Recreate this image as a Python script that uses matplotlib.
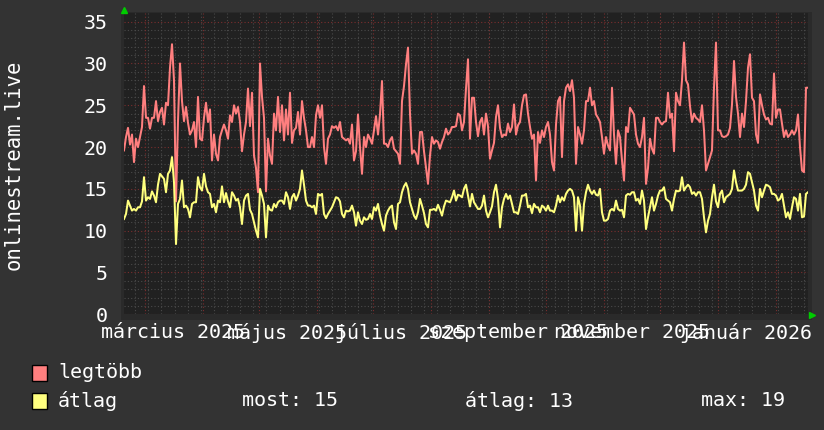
import matplotlib
matplotlib.use('Agg')
import matplotlib.pyplot as plt
from matplotlib.patches import Rectangle
import pandas as pd

plt.rcParams['font.family'] = ['DejaVu Sans Mono', 'DejaVu Sans']

# daily values, Feb 2025 -> Feb 2026
legtobb = [
    19.6, 21.2, 22.3, 20.3, 21.5, 18.2, 21.0, 20.0, 21.2, 22.4, 27.3, 23.5, 23.5, 22.2, 23.5, 23.5, 25.5,
    23.1, 24.2, 24.7, 22.7, 25.3, 25.0, 29.5, 32.3, 28.0, 13.5, 23.1, 30.0, 25.5, 23.1, 24.8, 22.9, 21.5,
    22.0, 23.0, 20.0, 26.0, 21.0, 20.8, 23.5, 25.3, 23.0, 24.5, 18.4, 21.5, 19.2, 18.4, 21.2,
    22.0, 22.7, 22.0, 21.0, 23.8, 23.0, 25.0, 24.0, 24.8, 23.0, 19.5, 21.5, 23.0, 27.0, 22.5, 26.5, 19.0,
    17.5, 14.6, 30.0, 26.0, 23.5, 14.7, 21.0, 19.0, 18.0, 24.0, 22.0, 26.0, 21.8, 25.0, 20.8, 24.5, 21.5,
    26.5, 20.5, 22.0, 22.3, 24.2, 21.5, 25.5, 23.5, 22.0, 20.0, 20.0, 21.2, 20.0, 23.8, 25.0,
    23.5, 25.0, 20.0, 18.0, 21.0, 21.5, 22.5, 22.3, 22.5, 22.0, 23.0, 21.2, 21.0, 20.8, 21.0, 20.4, 22.7,
    18.4, 19.5, 23.9, 20.0, 16.8, 21.2, 20.0, 21.5, 21.0, 20.4, 22.0, 23.7, 21.5, 23.9, 27.9, 20.4, 20.4,
    20.0, 20.8, 21.2, 19.8, 19.5, 19.2, 18.0, 25.5, 27.3, 29.9, 31.9, 24.0, 19.2, 19.6, 19.2,
    18.0, 21.8, 21.8, 19.5, 17.6, 15.6, 19.0, 21.2, 20.4, 20.8, 20.6, 19.8, 20.6, 21.2, 22.2, 21.5, 21.8,
    22.4, 22.4, 22.5, 24.0, 23.8, 22.0, 23.0, 27.0, 30.5, 21.0, 25.9, 25.9, 23.0, 21.3, 23.0, 23.5, 21.5,
    24.0, 22.5, 18.6, 19.6, 20.5, 23.6, 25.0, 22.3, 21.2, 21.5, 21.4, 22.8, 21.8, 22.4, 25.1,
    21.5, 22.6, 23.0, 25.0, 26.2, 26.3, 24.0, 22.4, 21.0, 21.5, 16.0, 21.8, 20.5, 22.0, 21.2, 22.4, 23.0,
    21.5, 18.2, 17.2, 22.7, 25.5, 26.0, 18.8, 25.5, 27.1, 27.5, 26.7, 28.0, 25.9, 18.0, 22.4, 21.5, 20.4,
    22.0, 25.5, 25.5, 27.1, 25.0, 25.5, 23.9, 23.5, 23.0, 21.2, 19.2, 21.2, 20.2, 19.6, 27.1,
    21.5, 18.0, 22.0, 21.2, 18.4, 16.0, 22.4, 21.8, 24.7, 24.3, 23.9, 21.5, 20.4, 20.0, 21.2, 23.5, 15.6,
    17.5, 21.0, 19.8, 19.2, 23.5, 23.5, 23.0, 22.7, 23.0, 23.1, 26.5, 23.5, 24.0, 19.5, 26.5, 25.5, 25.0,
    28.0, 32.5, 28.0, 27.5, 24.9, 23.0, 24.0, 23.5, 23.3, 23.0, 25.0, 22.0, 17.2, 18.0, 18.8,
    19.6, 27.1, 32.5, 22.0, 22.0, 21.3, 21.2, 21.3, 21.5, 22.3, 25.1, 30.3, 26.0, 24.0, 21.2, 24.0, 22.4,
    25.5, 29.5, 31.1, 25.9, 25.5, 21.5, 20.5, 26.3, 25.0, 23.9, 23.3, 23.5, 22.8, 22.7, 28.8, 23.5, 24.5,
    24.5, 22.8, 21.2, 22.0, 21.2, 21.5, 22.0, 21.5, 22.0, 23.9, 20.0, 17.2, 17.0, 27.1, 27.1,
]
atlag = [
    11.4, 12.0, 13.6, 13.0, 12.4, 12.6, 12.4, 12.8, 12.8, 13.5, 16.4, 13.6, 14.0, 13.8, 14.7, 14.2, 13.4,
    15.5, 16.8, 16.5, 16.2, 14.6, 16.8, 17.2, 18.8, 15.8, 8.4, 13.2, 13.8, 16.0, 12.8, 13.0, 12.6, 11.6,
    13.2, 13.4, 13.4, 16.4, 15.2, 14.8, 16.8, 15.3, 14.6, 14.4, 12.8, 13.2, 12.2, 13.6, 13.4,
    15.3, 13.4, 14.5, 13.5, 12.8, 14.6, 14.2, 13.6, 13.8, 12.8, 10.8, 13.6, 14.2, 14.4, 12.5, 12.0, 11.0,
    10.0, 9.2, 15.0, 14.2, 13.2, 9.2, 13.0, 12.5, 12.4, 13.2, 12.8, 13.4, 13.6, 13.6, 13.2, 14.6, 14.0,
    12.6, 14.0, 14.4, 13.6, 14.2, 15.0, 17.2, 15.5, 13.6, 13.0, 13.0, 12.8, 13.0, 12.0, 14.4,
    14.2, 14.4, 12.0, 11.5, 12.0, 12.4, 12.8, 13.4, 14.0, 13.9, 13.5, 12.0, 11.6, 12.4, 12.3, 12.4, 13.0,
    12.2, 10.6, 12.2, 11.2, 10.8, 11.6, 11.3, 11.4, 12.0, 11.4, 12.8, 12.4, 13.2, 11.8, 10.8, 10.0, 11.8,
    12.4, 12.8, 13.0, 11.0, 10.2, 13.2, 13.4, 14.6, 15.3, 15.7, 15.0, 13.4, 12.6, 11.8, 11.4,
    12.2, 13.8, 13.0, 12.1, 10.8, 10.4, 12.5, 12.5, 12.6, 12.4, 13.1, 12.5, 11.8, 12.9, 13.6, 13.5, 13.4,
    14.0, 14.8, 13.6, 14.3, 14.2, 14.0, 15.0, 15.5, 14.2, 12.9, 14.4, 13.4, 13.0, 12.6, 12.6, 13.0, 14.2,
    12.4, 11.6, 12.2, 12.9, 14.6, 15.5, 13.8, 10.4, 12.8, 13.8, 14.4, 13.8, 14.2, 13.2, 12.2,
    12.2, 12.0, 13.0, 14.2, 14.2, 14.4, 12.8, 13.0, 12.1, 13.2, 12.8, 12.8, 12.2, 13.0, 12.8, 12.4, 13.0,
    12.4, 12.4, 12.2, 13.0, 14.2, 13.4, 14.0, 13.6, 14.4, 14.8, 15.0, 14.8, 14.0, 10.0, 14.0, 13.0, 10.0,
    13.2, 14.6, 15.5, 14.8, 14.4, 14.8, 14.3, 14.2, 15.0, 12.2, 11.2, 11.2, 11.4, 12.4, 12.6,
    12.4, 13.6, 12.6, 12.4, 12.5, 11.6, 14.2, 14.4, 14.3, 14.6, 14.6, 13.6, 13.8, 13.2, 14.8, 13.6, 10.2,
    11.6, 12.8, 14.0, 12.4, 13.2, 14.2, 14.8, 14.8, 15.2, 13.8, 13.6, 13.4, 12.4, 13.8, 14.8, 14.7, 14.8,
    16.4, 14.8, 15.2, 15.5, 15.2, 14.4, 14.6, 14.2, 14.6, 14.6, 13.8, 11.6, 9.8, 11.2, 12.0,
    14.0, 15.5, 13.5, 12.8, 14.4, 14.8, 13.4, 14.0, 14.2, 14.4, 15.0, 17.2, 15.8, 14.8, 14.8, 14.8, 15.0,
    15.5, 17.0, 16.8, 15.8, 14.8, 13.0, 12.4, 15.0, 14.0, 14.8, 15.5, 15.4, 15.2, 14.4, 14.4, 14.2, 13.6,
    13.8, 14.4, 13.0, 11.6, 12.2, 11.4, 12.8, 14.0, 13.8, 12.4, 14.4, 11.6, 11.7, 14.4, 14.6,
]

tick_dates = ['2025-03-16', '2025-05-16', '2025-07-16', '2025-09-16', '2025-11-16', '2026-01-16']
tick_labels = ['március 2025', 'május 2025', 'július 2025', 'szeptember 2025', 'november 2025', 'január 2026']
y_ticks = [0, 5, 10, 15, 20, 25, 30, 35]

start, end = pd.Timestamp('2025-02-18'), pd.Timestamp('2026-02-18')
days = pd.date_range(start, end, periods=len(legtobb))

W, H = 824, 430
fig = plt.figure(figsize=(W / 100, H / 100), dpi=100)
fig.patch.set_facecolor('#333333')

# frame behind the canvas (rrdtool style)
fig.add_artist(Rectangle((121 / W, 1 - 320 / H), 691 / W, 308 / H,
                         transform=fig.transFigure, fc='#2a2a2a', ec='none', zorder=0))

ax = fig.add_axes([124 / W, 115.7 / H, 684 / W, 301 / H])
ax.set_facecolor('#212121')
for s in ax.spines.values():
    s.set_visible(False)
ax.set_xlim(start, end)
ax.set_ylim(0, 36)

# grid
dot = (0, (1, 2))
for v in range(0, 36):
    if v % 5 == 0:
        ax.axhline(v, color='#7a2e2e', lw=0.8, ls=dot, zorder=1)
    else:
        ax.axhline(v, color='#4a4a4a', lw=0.8, ls=dot, zorder=1)
for d in pd.date_range(start, end, freq='W-MON'):
    ax.axvline(d, color='#4a4a4a', lw=0.8, ls=dot, zorder=1)
for d in pd.date_range('2025-03-01', end, freq='MS'):
    ax.axvline(d, color='#7a2e2e', lw=0.8, ls=dot, zorder=1)

ax.plot(days, legtobb, color='#ff7f7f', lw=1.45, zorder=3)
ax.plot(days, atlag, color='#ffff7f', lw=1.45, zorder=4)

ax.set_yticks(y_ticks)
ax.set_xticks(pd.to_datetime(tick_dates))
ax.set_xticklabels(tick_labels)
ax.tick_params(axis='y', length=0, pad=12, labelsize=14.4, labelcolor='white')
ax.tick_params(axis='x', length=0, pad=6, labelsize=14.4, labelcolor='white')

fig.text(14 / W, 1 - 165 / H, 'onlinestream.live', rotation=90, ha='center', va='center',
         fontsize=14.8, color='white')

# axis arrows
ax.plot([124 / W], [1 - 9.5 / H], marker='^', ms=5, color='#00cc00', transform=fig.transFigure, clip_on=False)
ax.plot([812 / W], [1 - 314.5 / H], marker='>', ms=5, color='#00cc00', transform=fig.transFigure, clip_on=False)

# legend
for y, col, name in [(373, '#ff7f7f', 'legtöbb'), (401, '#ffff7f', 'átlag')]:
    fig.add_artist(Rectangle((32 / W, 1 - (y + 8) / H), 15 / W, 16 / H,
                             transform=fig.transFigure, fc=col, ec='black', lw=1))
    fig.text(58 / W, 1 - y / H, name, ha='left', va='center', fontsize=14.4, color='white')
fig.text(242 / W, 1 - 401 / H, 'most: 15', ha='left', va='center', fontsize=14.4, color='white')
fig.text(465 / W, 1 - 401 / H, 'átlag: 13', ha='left', va='center', fontsize=14.4, color='white')
fig.text(701 / W, 1 - 401 / H, 'max: 19', ha='left', va='center', fontsize=14.4, color='white')

fig.savefig('out.png', dpi=100, facecolor=fig.get_facecolor())
